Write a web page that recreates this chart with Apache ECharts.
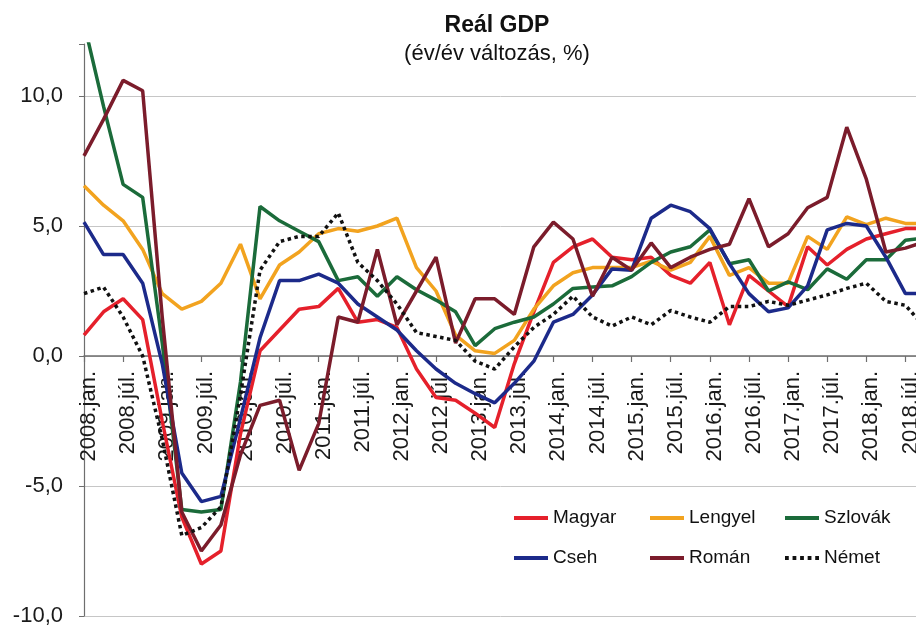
<!DOCTYPE html>
<html>
<head>
<meta charset="utf-8">
<script src="https://cdn.jsdelivr.net/npm/echarts@6/dist/echarts.min.js"></script>
<style>
html,body{margin:0;padding:0;background:#fff;}
#chart{width:916px;height:625px;}
</style>
</head>
<body>
<div id="chart"></div>
<script>
// Quarterly categories (2008 Q1 .. 2018 Q4)
const years = [2008,2009,2010,2011,2012,2013,2014,2015,2016,2017,2018];
const months = ['jan.','ápr.','júl.','okt.'];
const categories = [];
years.forEach(y => months.forEach(m => categories.push(y + '.' + m)));

const seriesNames = ['Magyar','Lengyel','Szlovák','Cseh','Román','Német'];

const magyar  = [0.8,1.7,2.2,1.4,-2.5,-6.2,-8.0,-7.5,-3.0,0.2,1.0,1.8,1.9,2.6,1.3,1.4,1.1,-0.5,-1.6,-1.7,-2.2,-2.75,-0.3,1.7,3.6,4.2,4.5,3.8,3.7,3.8,3.1,2.8,3.6,1.2,3.1,2.5,1.9,4.2,3.5,4.1,4.5,4.7,4.9,4.9];
const lengyel = [6.55,5.8,5.2,4.1,2.4,1.8,2.1,2.8,4.3,2.2,3.5,4.0,4.7,4.9,4.8,5.0,5.3,3.4,2.5,0.8,0.2,0.1,0.6,1.8,2.7,3.2,3.4,3.4,3.4,3.65,3.3,3.6,4.6,3.1,3.4,2.8,2.8,4.6,4.1,5.35,5.05,5.3,5.1,5.1];
const szlovak = [12.8,9.6,6.6,6.1,0.5,-5.9,-6.0,-5.9,-1.0,5.75,5.2,4.8,4.4,2.9,3.05,2.3,3.05,2.55,2.15,1.7,0.4,1.05,1.3,1.5,2.0,2.6,2.65,2.7,3.05,3.6,4.0,4.2,4.85,3.55,3.7,2.5,2.85,2.55,3.35,2.95,3.7,3.7,4.45,4.55];
const cseh    = [5.15,3.9,3.9,2.8,-0.3,-4.5,-5.6,-5.4,-2.4,0.7,2.9,2.9,3.15,2.8,2.0,1.5,1.0,0.2,-0.5,-1.05,-1.45,-1.8,-1.05,-0.2,1.3,1.6,2.35,3.35,3.3,5.3,5.8,5.55,4.9,3.55,2.4,1.7,1.85,2.7,4.85,5.1,5.0,3.8,2.4,2.4];
const roman   = [7.7,9.1,10.6,10.2,1.5,-6.0,-7.5,-6.5,-3.8,-1.9,-1.7,-4.4,-2.6,1.5,1.3,4.1,1.2,2.5,3.8,0.5,2.2,2.2,1.6,4.2,5.15,4.5,2.3,3.8,3.3,4.35,3.4,3.8,4.1,4.3,6.05,4.2,4.7,5.7,6.1,8.8,6.8,4.0,4.15,4.4];
const nemet   = [2.4,2.65,1.5,0.0,-3.2,-6.9,-6.6,-5.8,-1.5,3.3,4.4,4.6,4.6,5.5,3.6,2.9,2.0,0.9,0.75,0.6,-0.2,-0.5,0.35,1.1,1.6,2.3,1.5,1.15,1.5,1.2,1.75,1.5,1.3,1.9,1.9,2.1,1.95,2.15,2.35,2.6,2.8,2.1,1.95,1.1];

const seriesData = [magyar, lengyel, szlovak, cseh, roman, nemet];
const colors = ['#E5202B','#F2A31F','#1B6B3A','#1C2A8A','#7B1C2B','#111111'];
const FONT = "'Liberation Sans', Arial, sans-serif";
const SOLID_ICON = 'rect';
const DOT_ICON = 'path://M0,0h1v1h-1z M2,0h1v1h-1z M4,0h1v1h-1z M6,0h1v1h-1z M8,0h1v1h-1z';

const chart = echarts.init(document.getElementById('chart'), null, {renderer:'canvas'});

const legendCommon = {
  orient:'vertical', top:508, itemGap:20, itemWidth:34, itemHeight:4, padding:0,
  selectedMode:false,
  textStyle:{fontSize:19, lineHeight:20, color:'#111', fontFamily:FONT}
};
const legendItem = name => ({name:name, icon: name === 'Német' ? DOT_ICON : SOLID_ICON});

const option = {
  animation:false,
  backgroundColor:'#ffffff',
  textStyle:{fontFamily:FONT},
  title:[
    {text:'Reál GDP', left:492, top:9, textAlign:'center',
     textStyle:{fontSize:23, fontWeight:'bold', color:'#111', fontFamily:FONT}},
    {text:'(év/év változás, %)', left:492, top:38, textAlign:'center',
     textStyle:{fontSize:22, fontWeight:'normal', color:'#111', fontFamily:FONT}}
  ],
  grid:[
    // data area
    {left:84, right:-9, top:44, bottom:9, containLabel:false, outerBoundsMode:'none'},
    // axis line + ticks at value 0
    {left:84, right:-9, top:44, bottom:269, containLabel:false, outerBoundsMode:'none'},
    // category labels (slightly right of the ticks, as in the reference)
    {left:89, right:-14, top:44, bottom:269, containLabel:false, outerBoundsMode:'none'}
  ],
  legend:[
    Object.assign({}, legendCommon, {left:514, data:['Magyar','Cseh'].map(legendItem)}),
    Object.assign({}, legendCommon, {left:650, data:['Lengyel','Román'].map(legendItem)}),
    Object.assign({}, legendCommon, {left:785, data:['Szlovák','Német'].map(legendItem)})
  ],
  xAxis:[
    {gridIndex:0, type:'category', data:categories, boundaryGap:false,
     axisLine:{show:false}, axisTick:{show:false}, axisLabel:{show:false}, splitLine:{show:false}},
    {gridIndex:1, type:'category', data:categories, boundaryGap:false,
     axisLine:{show:true, onZero:false, lineStyle:{color:'#6e6e6e', width:1.5}},
     axisTick:{show:true, interval:1, length:6, lineStyle:{color:'#6e6e6e', width:1.2}},
     axisLabel:{show:false}, splitLine:{show:false}},
    {gridIndex:2, type:'category', data:categories, boundaryGap:false,
     axisLine:{show:false, onZero:false}, axisTick:{show:false},
     axisLabel:{interval:1, rotate:90, fontSize:22, color:'#1a1a1a', margin:15, fontFamily:FONT},
     splitLine:{show:false}}
  ],
  yAxis:[
    {gridIndex:0, type:'value', min:-10, max:12, interval:5,
     axisLine:{show:true, lineStyle:{color:'#6e6e6e', width:1.2}},
     axisTick:{show:true, length:5, lineStyle:{color:'#6e6e6e'}},
     axisLabel:{fontSize:22, margin:21, color:'#1a1a1a', fontFamily:FONT,
       formatter:function(v){ return v > 11 ? '' : v.toFixed(1).replace('.', ','); }},
     splitLine:{show:true, lineStyle:{width:1, color:['#c6c6c6','#c6c6c6','#c6c6c6','#c6c6c6','#c6c6c6','rgba(0,0,0,0)']}}},
    {gridIndex:1, type:'value', min:0, max:1, show:false},
    {gridIndex:2, type:'value', min:0, max:1, show:false}
  ],
  series: seriesNames.map((name, k) => ({
    name:name, type:'line', xAxisIndex:0, yAxisIndex:0,
    data:seriesData[k], symbol:'none', clip:true,
    color:colors[k],
    lineStyle:{width:3.5, color:colors[k], type: name === 'Német' ? [3.5, 3.5] : 'solid', cap:'butt'},
    emphasis:{disabled:true}
  }))
};

chart.setOption(option);
</script>
</body>
</html>
